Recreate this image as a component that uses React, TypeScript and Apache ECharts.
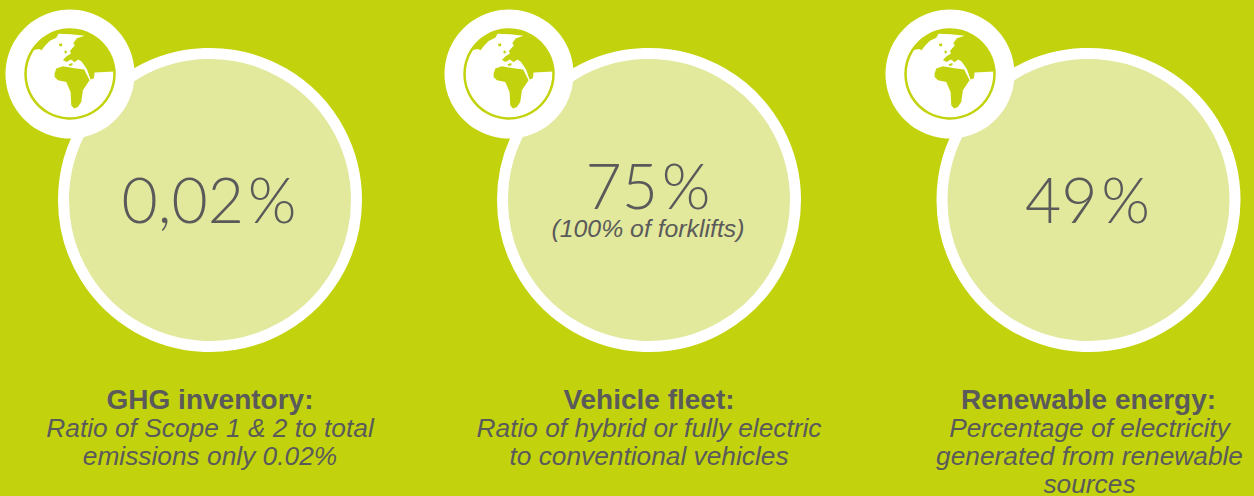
import React, { useEffect, useRef } from "react";
import * as echarts from "echarts";

const values = ["0,02\u200a%", "75\u200a%", "49\u200a%"];
const valueNotes = ["", "(100% of forklifts)", ""];
const headings = ["GHG inventory:", "Vehicle fleet:", "Renewable energy:"];
const descriptions = [
  ["Ratio of Scope 1 & 2 to total", "emissions only 0.02%"],
  ["Ratio of hybrid or fully electric", "to conventional vehicles"],
  ["Percentage of electricity", "generated from renewable", "sources"],
];
const circleCentersX = [210, 649, 1088.5];
const badgeCentersX = [70, 509, 950];

const BG = "#c2d30e";
const PALE = "#e2e89c";
const INK = "#5a5a5a";

// Continents are cut out of the white globe disc, in a 3x drawing grid centred on (211, 221).
const EURASIA =
  "M99 150 L118 146 L126 150 L135 138 L150 122 L170 112 L177 100 L215 102 L255 106 L232 114 L221 129 L226 135 " +
  "L211 152 L214 160 L200 169 L190 179 L201 185 L214 178 L225 186 L236 178 L246 184 L254 195 L262 207 L273 238 " +
  "L283 234 L285 217 L345 214 A133 133 0 0 0 99 150 Z";
const AFRICA =
  "M165 220 L170 205 L190 198 L225 204 L254 208 L270 240 L250 270 L245 305 L235 320 L223 325 L215 315 " +
  "L213 275 L200 245 L175 240 L165 230 Z";
const ISLANDS =
  "M178 131 L187 129 L188 137 L180 139 Z M194 153 L200 150 L202 158 L196 160 Z " +
  "M207 192 L218 188 L219 195 L209 197 Z";

echarts.graphic.registerShape("eurasia", echarts.graphic.extendPath(EURASIA, {}) as any);
echarts.graphic.registerShape("africa", echarts.graphic.extendPath(AFRICA, {}) as any);
echarts.graphic.registerShape("islands", echarts.graphic.extendPath(ISLANDS, {}) as any);

const NUM_FONT = "Lato, sans-serif";
const TEXT_FONT = "'Liberation Sans', sans-serif";

function label(text: string, x: number, y: number, size: number, weight: string, italic: boolean, family = TEXT_FONT) {
  return {
    type: "text",
    x,
    y,
    silent: true,
    style: {
      text,
      fill: INK,
      textAlign: "center",
      textVerticalAlign: "middle",
      fontFamily: family,
      fontSize: size,
      fontWeight: weight,
      fontStyle: italic ? "italic" : "normal",
    },
  };
}

function buildGraphics() {
  const out: any[] = [
    { type: "rect", shape: { x: 0, y: 0, width: 1254, height: 496 }, style: { fill: BG } },
  ];
  values.forEach((value, i) => {
    const cx = circleCentersX[i];
    const bx = badgeCentersX[i];
    out.push({
      type: "circle",
      shape: { cx, cy: 200, r: 146.5 },
      style: { fill: PALE, stroke: "#ffffff", lineWidth: 11 },
    });
    out.push({ type: "circle", shape: { cx: bx, cy: 74, r: 64.5 }, style: { fill: "#ffffff" } });
    out.push({
      type: "circle",
      shape: { cx: bx, cy: 74, r: 44.5 },
      style: { fill: "#ffffff", stroke: BG, lineWidth: 2.5 },
    });
    ["eurasia", "africa", "islands"].forEach((shape) => {
      out.push({
        type: shape,
        x: bx - 211 / 3,
        y: 74 - 221 / 3,
        scaleX: 1 / 3,
        scaleY: 1 / 3,
        style: { fill: BG },
      });
    });
    out.push(label(value, cx - 1, valueNotes[i] ? 184 : 198, 62.5, "300", false, NUM_FONT));
    if (valueNotes[i]) out.push(label(valueNotes[i], cx - 1, 228, 24.8, "400", true));
    out.push(label(headings[i], cx, 399, 28, "700", false));
    descriptions[i].forEach((line, j) => {
      out.push(label(line, cx + (i === 2 ? 1 : 0), 428 + j * 28, 26.3, "400", true));
    });
  });
  return out;
}

export default function App() {
  const ref = useRef<HTMLDivElement>(null);
  useEffect(() => {
    const chart = echarts.init(ref.current!, undefined, { renderer: "svg" });
    chart.setOption({ animation: false, backgroundColor: BG, graphic: { elements: buildGraphics() } });
    return () => chart.dispose();
  }, []);
  return <div ref={ref} style={{ position: "fixed", left: 0, top: 0, width: 1254, height: 496 }} />;
}
